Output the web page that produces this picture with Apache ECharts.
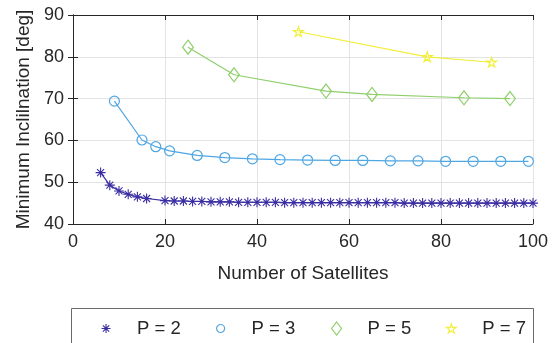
<!DOCTYPE html>
<html>
<head>
<meta charset="utf-8">
<script src="https://cdn.jsdelivr.net/npm/echarts@6/dist/echarts.min.js"></script>
<style>
  html, body { margin: 0; padding: 0; background: #fff; }
  #chart { width: 554px; height: 343px; }
</style>
</head>
<body>
<div id="chart"></div>
<script>
// Minimum inclination versus constellation size, one curve per number of planes P
const p2Sats = [6, 8, 10, 12, 14, 16, 20, 22, 24, 26, 28, 30, 32, 34, 36, 38, 40, 42, 44, 46, 48, 50,
  52, 54, 56, 58, 60, 62, 64, 66, 68, 70, 72, 74, 76, 78, 80, 82, 84, 86, 88, 90, 92, 94, 96, 98, 100];
const p2Incl = [52.3, 49.3, 47.9, 47.1, 46.5, 46.1, 45.6, 45.5, 45.5, 45.4, 45.4, 45.3, 45.3, 45.3, 45.2, 45.2,
  45.2, 45.2, 45.2, 45.1, 45.1, 45.1, 45.1, 45.1, 45.1, 45.1, 45.1, 45.1, 45.1, 45.1, 45.1, 45.1, 45.0, 45.0,
  45.0, 45.0, 45.0, 45.0, 45.0, 45.0, 45.0, 45.0, 45.0, 45.0, 45.0, 45.0, 45.0];

const p3Sats = [9, 15, 18, 21, 27, 33, 39, 45, 51, 57, 63, 69, 75, 81, 87, 93, 99];
const p3Incl = [69.4, 60.1, 58.5, 57.5, 56.4, 55.9, 55.6, 55.4, 55.3, 55.2, 55.2, 55.1, 55.1, 55.0, 55.0, 55.0, 55.0];

const p5Sats = [25, 35, 55, 65, 85, 95];
const p5Incl = [82.3, 75.7, 71.8, 71.0, 70.2, 70.0];

const p7Sats = [49, 77, 91];
const p7Incl = [86.0, 80.0, 78.7];

const seriesNames = ['P = 2', 'P = 3', 'P = 5', 'P = 7'];
const xTicks = [0, 20, 40, 60, 80, 100];
const yTicks = [40, 50, 60, 70, 80, 90];

const colors = ['#3b2ea3', '#4ea6e3', '#8fcf6c', '#f2ee3a'];
const asterisk = 'path://M0,-10L0,10M-10,0L10,0M-7,-7L7,7M-7,7L7,-7';
const diamond = 'path://M0,-13L10,0L0,13L-10,0Z';
const star = 'path://M0,-100L22.45,-30.9L95.1,-30.9L36.3,11.8L58.8,80.9L0,38.2L-58.8,80.9L-36.3,11.8L-95.1,-30.9L-22.45,-30.9Z';
const symbols = [asterisk, 'circle', diamond, star];
const symbolSizes = [10, 10, 14, 10];
const legendSizes = [9, 8, 13, 9];

const pairs = (xs, ys) => xs.map((x, i) => [x, ys[i]]);
const dataSets = [pairs(p2Sats, p2Incl), pairs(p3Sats, p3Incl), pairs(p5Sats, p5Incl), pairs(p7Sats, p7Incl)];

const textColor = '#262626';
const font = 'Liberation Sans, Arial, Helvetica, sans-serif';

const chart = echarts.init(document.getElementById('chart'), null, { renderer: 'canvas' });

const markerStyle = (i) => ({
  color: i === 0 ? colors[i] : 'rgba(0,0,0,0)',
  borderColor: colors[i],
  borderWidth: i === 0 ? 1.1 : 1.2
});

const series = seriesNames.map((name, i) => ({
  name,
  type: 'line',
  data: dataSets[i],
  symbol: symbols[i],
  symbolSize: symbolSizes[i],
  symbolKeepAspect: true,
  showAllSymbol: true,
  lineStyle: { color: colors[i], width: 1.2 },
  itemStyle: markerStyle(i),
  emphasis: { disabled: true },
  animation: false,
  z: 3
}));

const plainAxis = {
  axisLine: { show: true, lineStyle: { color: textColor, width: 1 } },
  axisTick: { show: true, inside: true, length: 5, lineStyle: { color: textColor } },
  axisLabel: { show: false },
  splitLine: { show: false }
};

// one legend block per entry so each marker/label pair sits in its own slot
const legendIconCenters = [103, 218, 333, 448];
const legends = seriesNames.map((name, i) => ({
  left: legendIconCenters[i] - 7,
  top: 314,
  itemWidth: 14,
  itemHeight: legendSizes[i],
  selectedMode: false,
  textStyle: { color: textColor, fontSize: 18.5, fontFamily: font, padding: [0, 0, 0, 19] },
  data: [{ name, icon: symbols[i], itemStyle: markerStyle(i) }]
}));

chart.setOption({
  animation: false,
  backgroundColor: '#fff',
  grid: { left: 73, right: 21, top: 15, bottom: 119, containLabel: false },
  xAxis: [{
    type: 'value', min: xTicks[0], max: xTicks[xTicks.length - 1], interval: 20,
    name: 'Number of Satellites', nameLocation: 'middle', nameGap: 40,
    nameTextStyle: { color: textColor, fontSize: 19, fontFamily: font },
    axisLine: { show: true, lineStyle: { color: textColor, width: 1 } },
    axisTick: { show: true, inside: true, length: 5, lineStyle: { color: textColor } },
    axisLabel: { color: textColor, fontSize: 18, fontFamily: font, margin: 9 },
    splitLine: { show: true, lineStyle: { color: '#e3e3e3', width: 1 } }
  }, Object.assign({ type: 'value', position: 'top', min: 0, max: 100, interval: 20 }, plainAxis)],
  yAxis: [{
    type: 'value', min: yTicks[0], max: yTicks[yTicks.length - 1], interval: 10,
    name: 'Minimum Inclilnation [deg]', nameLocation: 'middle', nameGap: 37,
    nameTextStyle: { color: textColor, fontSize: 19, fontFamily: font },
    axisLine: { show: true, lineStyle: { color: textColor, width: 1 } },
    axisTick: { show: true, inside: true, length: 5, lineStyle: { color: textColor } },
    axisLabel: { color: textColor, fontSize: 18, fontFamily: font, margin: 9 },
    splitLine: { show: true, lineStyle: { color: '#e3e3e3', width: 1 } }
  }, Object.assign({ type: 'value', position: 'right', min: 40, max: 90, interval: 10 }, plainAxis)],
  legend: legends,
  graphic: [{
    type: 'rect',
    shape: { x: 71.5, y: 308.5, width: 462, height: 60 },
    style: { fill: 'none', stroke: '#6a6a6a', lineWidth: 1 },
    silent: true,
    z: 0
  }],
  series
});
</script>
</body>
</html>
